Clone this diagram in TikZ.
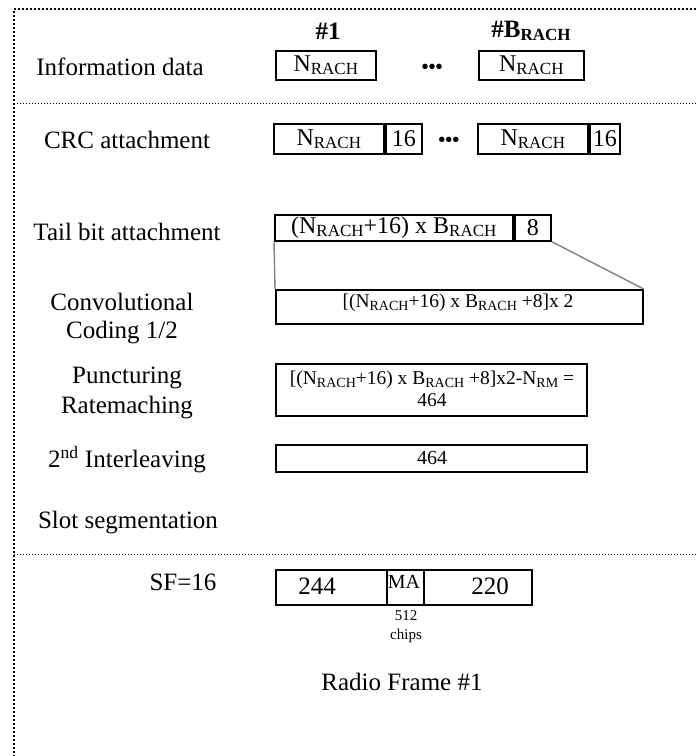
\documentclass[tikz,border=0pt]{standalone}
\usepackage{fontspec}
\setmainfont{Liberation Serif}
\newcommand{\fsz}[1]{\fontsize{#1}{#1}\selectfont}
\newcommand{\fszb}[2]{\fontsize{#1}{#2}\selectfont}
\newcommand{\lo}[2]{\raisebox{-3pt}{\fsz{#1}#2}}
\begin{document}
\begin{tikzpicture}[x=1pt,y=-1pt,
  box/.style={draw, line width=1.6pt, inner sep=0pt, anchor=north west},
  lbl/.style={inner sep=0pt, font=\fsz{25}},
  big/.style={inner sep=0pt, font=\fsz{24}},
  small/.style={inner sep=0pt, font=\fsz{19.5}},
  tiny/.style={inner sep=0pt, font=\fsz{15}},
  frameline/.style={line width=2pt, dash pattern=on 2pt off 2pt},
  sepline/.style={line width=0.9pt, dash pattern=on 1pt off 2pt},
  fanline/.style={draw=black!50, line width=1.4pt}]
\useasboundingbox (0,0) rectangle (696,756);
% frame
\draw[frameline] (696,9) -- (14,9) -- (14,756);
\draw[sepline] (14,103) -- (696,103);
\draw[sepline] (14,554) -- (696,554);

% headers
\node[lbl, font=\fsz{25}\bfseries] (h1) at (328,31) {\#1};
\node[lbl, font=\fsz{25}\bfseries] (hB) at (531,31) {\#B\lo{17}{\bfseries RACH}};

% row labels
\node[lbl] (linfo) at (120,67) {Information data};
\node[lbl] (lcrc) at (127,140) {CRC attachment};
\node[lbl] (ltail) at (127,232) {Tail bit attachment};
\node[lbl, align=center, font=\fszb{25}{28}] (lconv) at (122,319) {Convolutional\\Coding 1/2};
\node[lbl, align=center, font=\fszb{25}{30}] (lpunct) at (127,393) {Puncturing\\Ratemaching};
\node[lbl] (linter) at (127,460) {2\textsuperscript{nd} Interleaving};
\node[lbl] (lslot) at (128,523) {Slot segmentation};
\node[lbl] (lsf) at (183,582) {SF=16};

% information data
\node[box, minimum width=100pt, minimum height=29pt] (info1) at (275,50) {};
\node[big] (info1t) at (info1.center) {N\lo{17}{RACH}};
\node[lbl, font=\fsz{20}\bfseries] (idots) at (432,69) {•••};
\node[box, minimum width=105pt, minimum height=29pt] (info2) at (478,50) {};
\node[big] (info2t) at (info2.center) {N\lo{17}{RACH}};

% CRC attachment
\node[box, minimum width=110pt, minimum height=30pt] (crc1) at (273,123) {};
\node[big] (crc1t) at (crc1.center) {N\lo{17}{RACH}};
\node[box, minimum width=36pt, minimum height=30pt] (crcA) at (385,123) {};
\node[big] (crcAt) at (crcA.center) {16};
\node[lbl, font=\fsz{20}\bfseries] (cdots) at (449,142) {•••};
\node[box, minimum width=110pt, minimum height=30pt] (crc2) at (477,123) {};
\node[big] (crc2t) at (crc2.center) {N\lo{17}{RACH}};
\node[box, minimum width=30pt, minimum height=30pt] (crcB) at (589,123) {};
\node[big] (crcBt) at (crcB.center) {16};

% tail bits
\node[box, minimum width=238pt, minimum height=26pt] (tail) at (274,214) {};
\node[big] (tailt) at (tail.center) {(N\lo{17}{RACH}+16) x B\lo{17}{RACH}};
\node[box, minimum width=36pt, minimum height=26pt] (tail8) at (514,214) {};
\node[big] (tail8t) at (tail8.center) {8};

% convolutional coding
\node[box, minimum width=367pt, minimum height=34pt] (conv) at (275,289) {};
\node[small] (convt) at (458,303) {[(N\lo{14}{RACH}+16) x B\lo{14}{RACH} +8]x 2};
\draw[fanline] (tail.south west) -- (conv.north west);
\draw[fanline] (tail8.south east) -- (conv.north east);

% puncturing
\node[box, minimum width=311pt, minimum height=52pt] (punct) at (275,363) {};
\node[small, align=center, font=\fszb{19.5}{22}] (punctt) at (432,389) {[(N\lo{14}{RACH}+16) x B\lo{14}{RACH} +8]x2-N\lo{14}{RM} =\\464};

% interleaving
\node[box, minimum width=311pt, minimum height=27pt] (inter) at (275,444) {};
\node[small, font=\fsz{20}] (intert) at (432,458) {464};

% radio frame
\node[box, minimum width=111pt, minimum height=35pt] (f244) at (275,569) {};
\node[lbl] (f244t) at (317,586) {244};
\node[box, minimum width=37pt, minimum height=35pt] (fMA) at (386,569) {};
\node[lbl, font=\fsz{20}] (fMAt) at (404,582) {MA};
\node[box, minimum width=108pt, minimum height=35pt] (f220) at (423,569) {};
\node[lbl] (f220t) at (490,586) {220};
\node[tiny, align=center, font=\fszb{15}{19}] (chips) at (406,627) {512\\chips};
\node[lbl] (radio) at (402,682) {Radio Frame \#1};
\end{tikzpicture}
\end{document}
